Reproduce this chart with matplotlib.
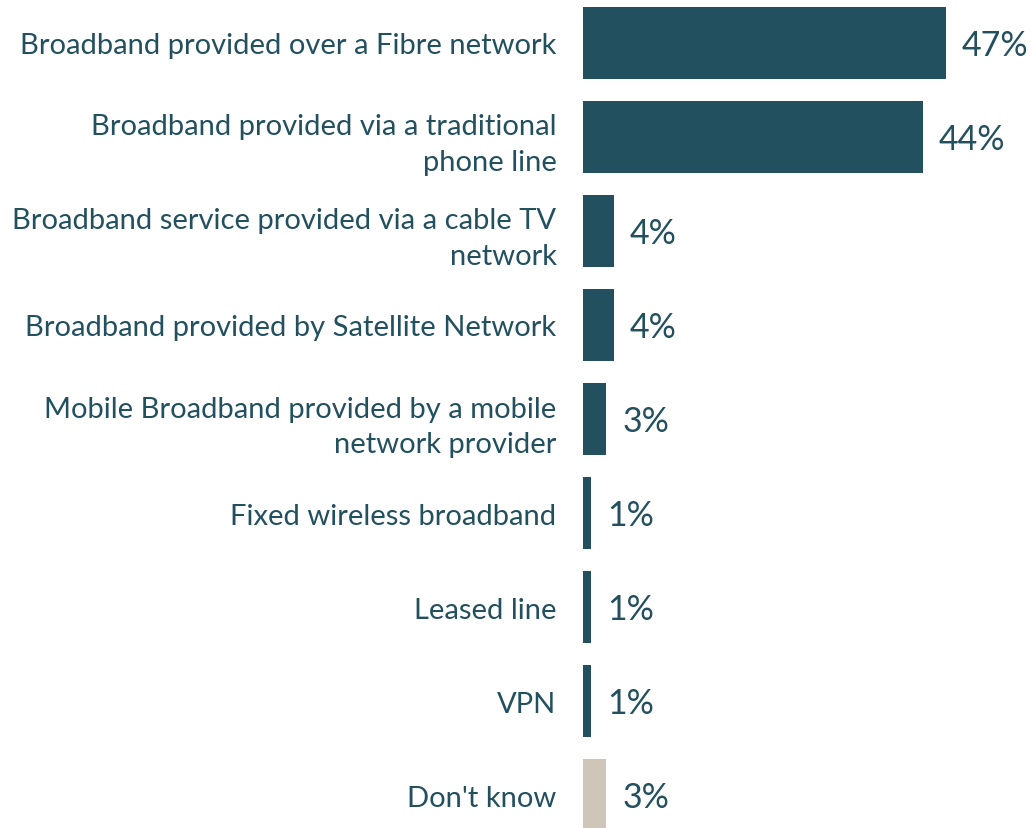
import matplotlib
matplotlib.use("Agg")
import matplotlib.pyplot as plt

# Broadband connection type shares (%)
categories = [
    "Broadband provided over a Fibre network",
    "Broadband provided via a traditional\nphone line",
    "Broadband service provided via a cable TV\nnetwork",
    "Broadband provided by Satellite Network",
    "Mobile Broadband provided by a mobile\nnetwork provider",
    "Fixed wireless broadband",
    "Leased line",
    "VPN",
    "Don't know",
]
shares = [47, 44, 4, 4, 3, 1, 1, 1, 3]
labels = ["47%", "44%", "4%", "4%", "3%", "1%", "1%", "1%", "3%"]

BAR = "#23505f"
DK = "#cfc6b9"
TXT = "#22505e"
plt.rcParams["font.family"] = ["Lato", "DejaVu Sans"]

fig = plt.figure(figsize=(10.32, 8.29), dpi=100)
ax = fig.add_axes([583 / 1032, 0, 1 - 583 / 1032, 1])

colors = [BAR] * (len(shares) - 1) + [DK]
ypos = list(range(len(shares)))
ax.barh(ypos, shares, height=0.766, color=colors)

for y, v, lab in zip(ypos, shares, labels):
    ax.text(v + 2.1, y + 0.02, lab, va="center", ha="left", fontsize=24.5, color=TXT)

ax.set_xlim(0, (1032 - 583) / 7.72)
ax.set_ylim(8.35, -0.467)
ax.set_yticks(ypos)
ax.set_yticklabels(categories, fontsize=21, color=TXT, linespacing=1.45)
ax.tick_params(axis="y", length=0, pad=19)
ax.set_xticks([])
for s in ax.spines.values():
    s.set_visible(False)

fig.savefig("out.png", dpi=100)
